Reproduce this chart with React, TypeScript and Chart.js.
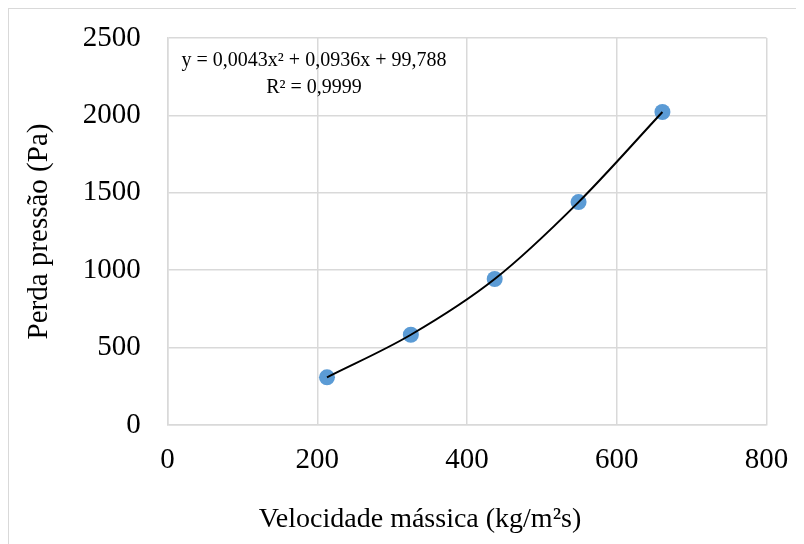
import React, { useEffect, useRef } from "react";
import { Chart, registerables } from "chart.js";

Chart.register(...registerables);

// ---- data ----
const X_VALUES = [213, 325, 437, 549, 661];
const Y_VALUES = [308, 583, 943, 1440, 2022];
const X_TICKS = [0, 200, 400, 600, 800];
const Y_TICKS = [0, 500, 1000, 1500, 2000, 2500];
const X_TITLE = "Velocidade mássica (kg/m²s)";
const Y_TITLE = "Perda pressão (Pa)";
const TREND_LABEL = ["y = 0,0043x² + 0,0936x + 99,788", "R² = 0,9999"];

const FONT = "'Liberation Serif', 'Times New Roman', Times, serif";
const GRID = "#d9d9d9";
const MARKER = "#5B9BD5";

const trendLabelPlugin = {
  id: "trendLabel",
  afterDatasetsDraw(chart: any) {
    const { ctx, chartArea } = chart;
    ctx.save();
    ctx.font = `20px ${FONT}`;
    ctx.fillStyle = "#000";
    ctx.textAlign = "center";
    ctx.textBaseline = "alphabetic";
    const cx = chartArea.left + 146.5;
    TREND_LABEL.forEach((t, i) => {
      ctx.fillText(t, cx, chartArea.top + 28 + i * 26.7);
    });
    ctx.restore();
  },
};

export default function App() {
  const canvasRef = useRef<HTMLCanvasElement | null>(null);

  useEffect(() => {
    document.documentElement.style.overflow = "hidden";
    document.body.style.overflow = "hidden";
    const canvas = canvasRef.current;
    if (!canvas) return;
    const points = X_VALUES.map((x, i) => ({ x, y: Y_VALUES[i] }));
    const tickFont = { family: FONT, size: 29, weight: "normal" as const, lineHeight: 1.2 };
    const titleFont = { family: FONT, size: 28, weight: "normal" as const, lineHeight: 1.2 };

    const chart = new Chart(canvas, {
      type: "scatter",
      data: {
        datasets: [
          {
            label: "trend",
            data: points,
            showLine: true,
            pointRadius: 0,
            pointHoverRadius: 0,
            borderColor: "#000",
            borderWidth: 2,
            cubicInterpolationMode: "monotone",
            fill: false,
          } as any,
          {
            label: "data",
            data: points,
            pointRadius: 8,
            pointHoverRadius: 8,
            pointBorderWidth: 0,
            backgroundColor: MARKER,
            borderColor: MARKER,
          } as any,
        ],
      },
      options: {
        animation: false,
        responsive: false,
        events: [],
        layout: { autoPadding: false, padding: { top: 29, left: 0, right: 0, bottom: 6.6 } },
        plugins: {
          legend: { display: false },
          tooltip: { enabled: false },
          title: {
            display: true,
            position: "bottom",
            text: X_TITLE,
            color: "#000",
            font: { ...titleFont, lineHeight: 34.8 / 28 },
            padding: 0,
            fullSize: true,
          },
        },
        scales: {
          x: {
            type: "linear",
            position: "bottom",
            min: 0,
            max: 800,
            afterBuildTicks: (s: any) => {
              s.ticks = X_TICKS.map((v) => ({ value: v }));
            },
            afterFit: (s: any) => {
              s.height = 77.6;
              s.paddingRight = 64.5;
              s.paddingLeft = 0;
              s.paddingTop = 0;
              s.paddingBottom = 0;
            },
            grid: { color: GRID, lineWidth: 1.5, drawTicks: false },
            border: { color: GRID, width: 1.5 },
            ticks: {
              padding: 18,
              color: "#000",
              font: tickFont,
              maxRotation: 0,
              autoSkip: false,
              callback: (v: any) => String(v),
            },
          },
          y: {
            type: "linear",
            position: "left",
            min: 0,
            max: 2500,
            afterBuildTicks: (s: any) => {
              s.ticks = Y_TICKS.map((v) => ({ value: v }));
            },
            afterFit: (s: any) => {
              s.width = 158.5;
              s.paddingTop = 0;
              s.paddingBottom = 0;
              s.paddingLeft = 0;
              s.paddingRight = 0;
            },
            grid: { color: GRID, lineWidth: 1.5, drawTicks: false },
            border: { color: GRID, width: 1.5 },
            ticks: {
              padding: 26.8,
              color: "#000",
              font: tickFont,
              autoSkip: false,
              callback: (v: any) => String(v),
            },
            title: {
              display: true,
              text: Y_TITLE,
              color: "#000",
              font: tickFont,
              padding: { top: 13, bottom: 0 },
            },
          },
        },
      },
      plugins: [trendLabelPlugin],
    } as any);

    return () => {
      chart.destroy();
    };
  }, []);

  return (
    <div
      style={{
        position: "relative",
        width: 824,
        height: 560,
        border: "1px solid #d9d9d9",
        boxSizing: "border-box",
        background: "#fff",
      }}
    >
      <canvas
        ref={canvasRef}
        width={822}
        height={535}
        style={{ display: "block", width: 822, height: 535 }}
      />
    </div>
  );
}
